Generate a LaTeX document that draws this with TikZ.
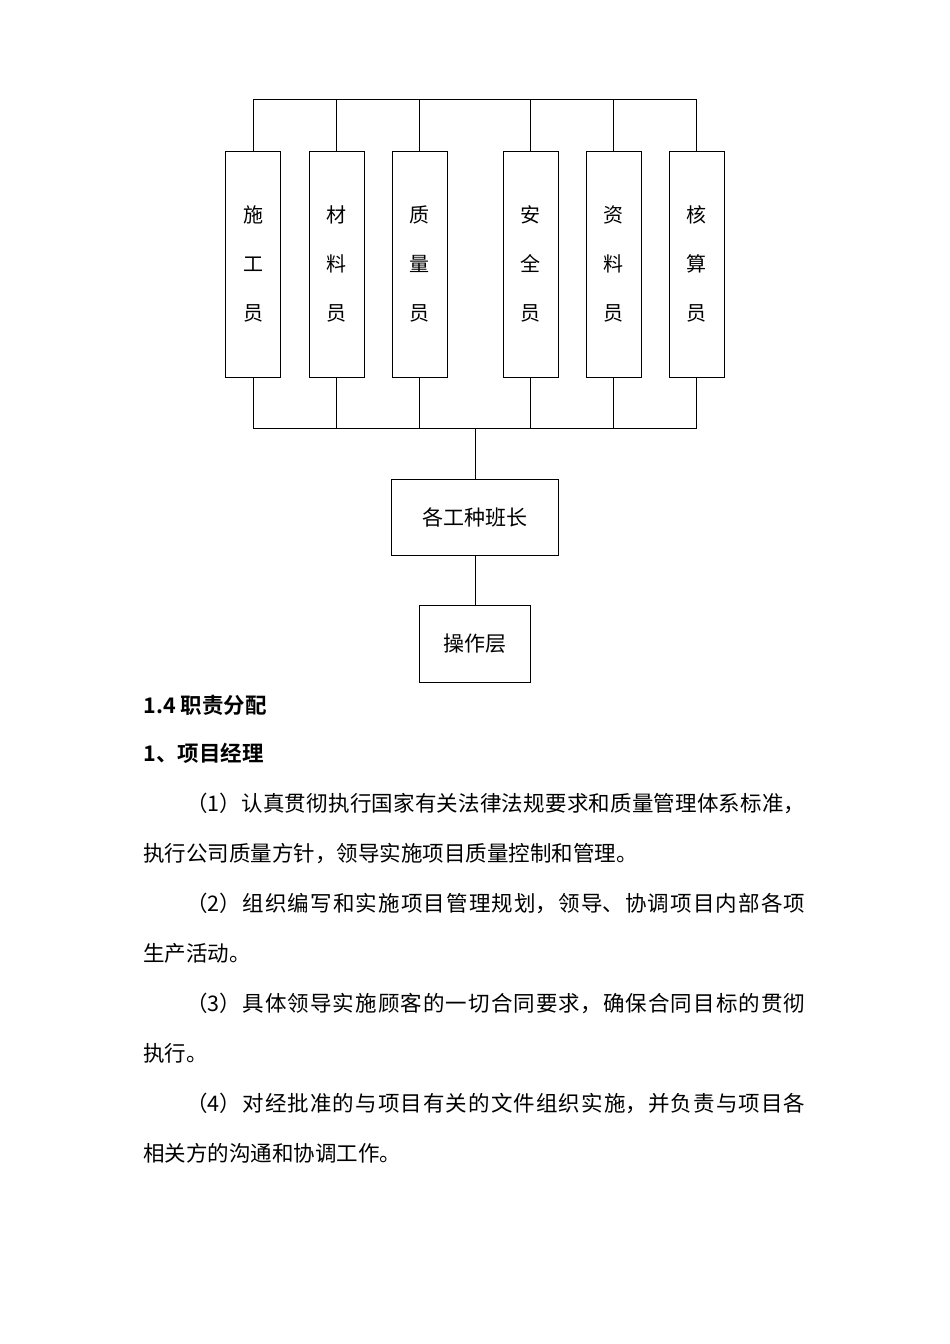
\documentclass[tikz,border=0pt]{standalone}
\usepackage{fontspec}
\setmainfont{Noto Sans CJK SC}[BoldFont={Noto Sans CJK SC Bold}]
\XeTeXlinebreaklocale "zh"
\XeTeXlinebreakskip=0pt plus 2pt
\tikzset{
  staff/.style={draw, minimum width=55pt, minimum height=226pt, inner sep=0pt, align=center, font=\fontsize{20}{49}\selectfont},
  unit/.style={draw, inner sep=0pt, font=\fontsize{21}{25}\selectfont},
  fullline/.style={anchor=base west, inner sep=0pt, text width=662pt, align=justify, font=\fontsize{21.5}{26}\selectfont, execute at begin node={\parfillskip=0pt\relax}},
  textline/.style={anchor=base west, inner sep=0pt, font=\fontsize{21.5}{26}\selectfont},
  headline/.style={anchor=base west, inner sep=0pt, font=\bfseries\fontsize{21.5}{26}\selectfont},
}
\begin{document}
\begin{tikzpicture}[x=1pt, y=-1pt, line width=0.8pt]
\useasboundingbox (0,0) rectangle (950,1344);
\node[staff] (shigong) at (253,264){施\\工\\员};
\node[staff] (cailiao) at (336.5,264){材\\料\\员};
\node[staff] (zhiliang) at (419.5,264){质\\量\\员};
\node[staff] (anquan) at (530.5,264){安\\全\\员};
\node[staff] (ziliao) at (613.5,264){资\\料\\员};
\node[staff] (hesuan) at (696.5,264){核\\算\\员};
\coordinate (bustop) at (475,99);
\coordinate (busbot) at (475,428);
\foreach \b in {shigong,cailiao,zhiliang,anquan,ziliao,hesuan}{
  \draw[](\b.north) -- (\b.north |- bustop);
  \draw[](\b.south) -- (\b.south |- busbot);
}
\draw[](shigong.north |- bustop) -- (hesuan.north |- bustop);
\draw[](shigong.south |- busbot) -- (hesuan.south |- busbot);
\node[unit, minimum width=167pt, minimum height=76pt] (banzhang) at (475,517){各工种班长};
\node[unit, minimum width=111pt, minimum height=77pt] (caozuo) at (475,643.5){操作层};
\draw[](busbot) -- (banzhang);
\draw[](banzhang) -- (caozuo);
% text below the chart
\node[headline] (h14) at (143,713){1.4 职责分配};
\node[headline] (h1) at (143,761){1、项目经理};
\node[fullline] (p1a) at (143,811){\hspace*{43pt}（1）认真贯彻执行国家有关法律法规要求和质量管理体系标准，};
\node[textline] (p1b) at (143,861){执行公司质量方针，领导实施项目质量控制和管理。};
\node[fullline] (p2a) at (143,911){\hspace*{43pt}（2）组织编写和实施项目管理规划，领导、协调项目内部各项};
\node[textline] (p2b) at (143,961){生产活动。};
\node[fullline] (p3a) at (143,1011){\hspace*{43pt}（3）具体领导实施顾客的一切合同要求，确保合同目标的贯彻};
\node[textline] (p3b) at (143,1061){执行。};
\node[fullline] (p4a) at (143,1111){\hspace*{43pt}（4）对经批准的与项目有关的文件组织实施，并负责与项目各};
\node[textline] (p4b) at (143,1161){相关方的沟通和协调工作。};
\end{tikzpicture}
\end{document}
